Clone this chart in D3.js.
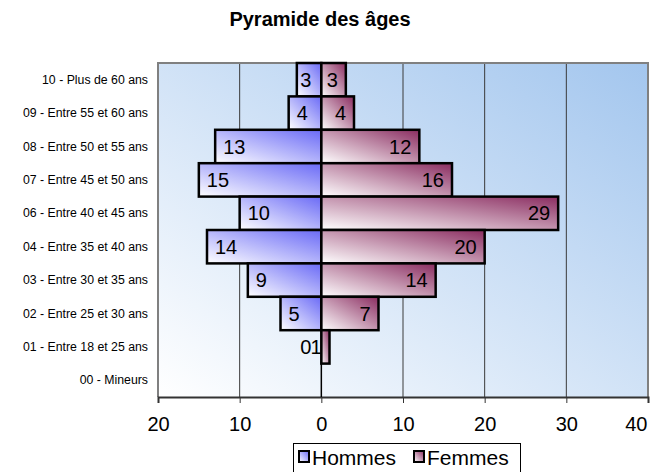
<!DOCTYPE html>
<html>
<head>
<meta charset="utf-8">
<script src="https://cdn.jsdelivr.net/npm/d3@7"></script>
<style>
    body { margin: 0; background: #fff; }
    text { font-family: Arial, "Liberation Sans", sans-serif; fill: #000; }
</style>
</head>
<body>
<script>
// données
const categories = [
    '10 - Plus de 60 ans',
    '09 - Entre 55 et 60 ans',
    '08 - Entre 50 et 55 ans',
    '07 - Entre 45 et 50 ans',
    '06 - Entre 40 et 45 ans',
    '04 - Entre 35 et 40 ans',
    '03 - Entre 30 et 35 ans',
    '02 - Entre 25 et 30 ans',
    '01 - Entre 18 et 25 ans',
    '00 - Mineurs'
]
const hommes = [3, 4, 13, 15, 10, 14, 9, 5, 0, null]
const femmes = [3, 4, 12, 16, 29, 20, 14, 7, 1, null]
const ticks = [-20, -10, 0, 10, 20, 30, 40]
const seriesNames = ['Hommes', 'Femmes']

const width = 658
const height = 472
const plot = {left: 158, right: 648, top: 63, bottom: 397}

const svg = d3.select('body').append('svg').attr('width', width).attr('height', height)

const defs = svg.append('defs')
function gradient(id, from, to) {
    const g = defs.append('linearGradient').attr('id', id)
        .attr('x1', 0).attr('y1', 1).attr('x2', 1).attr('y2', 0)
    g.append('stop').attr('offset', '0%').style('stop-color', from)
    g.append('stop').attr('offset', '100%').style('stop-color', to)
}
gradient('bg', '#ffffff', '#a3c6ee')
gradient('gH', '#ffffff', '#6a6af6')
gradient('gF', '#ffffff', '#8a2c60')

const x = d3.scaleLinear().domain([-20, 40]).range([plot.left, plot.right])
const y = d3.scaleBand().domain(categories).range([plot.top, plot.bottom]).padding(0)

// titre
svg.append('text')
    .attr('x', 320).attr('y', 26)
    .attr('text-anchor', 'middle')
    .style('font-size', '20px').style('font-weight', 'bold')
    .text('Pyramide des âges')

// fond de la zone de traçage
svg.append('rect')
    .attr('x', plot.left).attr('y', plot.top)
    .attr('width', plot.right - plot.left).attr('height', plot.bottom - plot.top)
    .attr('fill', 'url(#bg)')

// quadrillage vertical
svg.append('g').selectAll('line')
    .data(ticks.filter(t => t !== 0 && t !== -20 && t !== 40))
    .enter().append('line')
    .attr('x1', d => x(d)).attr('x2', d => x(d))
    .attr('y1', plot.top).attr('y2', plot.bottom)
    .attr('stroke', '#3a3a3a').attr('stroke-width', 1)

// bordure grise
svg.append('path')
    .attr('d', `M${plot.left},${plot.bottom} V${plot.top} H${plot.right} V${plot.bottom}`)
    .attr('fill', 'none').attr('stroke', '#808080').attr('stroke-width', 2)

// axe du bas
const xAxis = d3.axisBottom(x).tickValues(ticks).tickSize(6).tickPadding(14)
    .tickFormat(d => Math.abs(d))
const axis = svg.append('g').attr('transform', `translate(0,${plot.bottom})`).call(xAxis)
axis.select('.domain').attr('stroke', '#333').attr('stroke-width', 2)
axis.selectAll('.tick line').attr('stroke', '#333')
axis.selectAll('.tick text').style('font-size', '20px').attr('fill', '#000')
    .style('font-family', 'Arial, "Liberation Sans", sans-serif')
// le dernier libellé est rentré dans la zone visible
axis.selectAll('.tick text').filter(d => d === 40)
    .attr('text-anchor', 'end').attr('x', -1)

// libellés des catégories
svg.append('g').selectAll('text')
    .data(categories)
    .enter().append('text')
    .attr('x', 148)
    .attr('y', d => y(d) + y.bandwidth() / 2 + 4)
    .attr('text-anchor', 'end')
    .style('font-size', '12.3px')
    .text(d => d)

// barres
const rows = categories.map((c, i) => ({cat: c, h: hommes[i], f: femmes[i]}))
const bars = svg.append('g')
bars.selectAll('rect.h')
    .data(rows.filter(d => d.h !== null))
    .enter().append('rect').attr('class', 'h')
    .attr('x', d => x(-d.h)).attr('y', d => y(d.cat))
    .attr('width', d => x(0) - x(-d.h)).attr('height', y.bandwidth())
    .attr('fill', 'url(#gH)').attr('stroke', '#000').attr('stroke-width', 2.5)
bars.selectAll('rect.f')
    .data(rows.filter(d => d.f !== null))
    .enter().append('rect').attr('class', 'f')
    .attr('x', x(0)).attr('y', d => y(d.cat))
    .attr('width', d => x(d.f) - x(0)).attr('height', y.bandwidth())
    .attr('fill', 'url(#gF)').attr('stroke', '#000').attr('stroke-width', 2.5)

// axe vertical au zéro
svg.append('line')
    .attr('x1', x(0)).attr('x2', x(0))
    .attr('y1', plot.top).attr('y2', plot.bottom)
    .attr('stroke', '#000').attr('stroke-width', 1.5)

// étiquettes des valeurs
const labels = svg.append('g').style('font-size', '20px')
labels.selectAll('text.h')
    .data(rows.filter(d => d.h !== null))
    .enter().append('text').attr('class', 'h')
    .attr('y', d => y(d.cat) + y.bandwidth() / 2 + 7)
    .text(d => d.h)
    .each(function (d) {
        const w = this.getComputedTextLength()
        d3.select(this).attr('x', Math.min(x(-d.h) + 8, x(0) - 10 - w))
    })
labels.selectAll('text.f')
    .data(rows.filter(d => d.f !== null))
    .enter().append('text').attr('class', 'f')
    .attr('x', d => x(d.f) - 8)
    .attr('y', d => y(d.cat) + y.bandwidth() / 2 + 7)
    .attr('text-anchor', 'end')
    .text(d => d.f)

// légende
const legend = svg.append('g')
legend.append('rect')
    .attr('x', 293.5).attr('y', 443.5).attr('width', 227).attr('height', 40)
    .attr('fill', '#fff').attr('stroke', '#000').attr('stroke-width', 1)
const items = legend.selectAll('g.item')
    .data(seriesNames)
    .enter().append('g').attr('class', 'item')
    .attr('transform', (d, i) => `translate(${i ? 414 : 299},0)`)
items.append('rect')
    .attr('x', 0).attr('y', 451).attr('width', 10).attr('height', 11)
    .attr('fill', (d, i) => i ? 'url(#gF)' : 'url(#gH)')
    .attr('stroke', '#000').attr('stroke-width', 2)
items.append('text')
    .attr('x', 13).attr('y', 465)
    .style('font-size', '21px')
    .text(d => d)
</script>
</body>
</html>
